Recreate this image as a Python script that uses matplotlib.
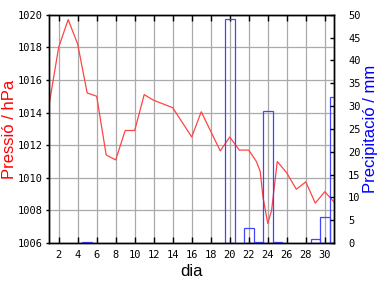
import numpy as np
import matplotlib
matplotlib.use("Agg")
import matplotlib.pyplot as plt

# pressure readings (day of month, hPa)
press_days = [1, 2, 3, 4, 5, 6, 7, 8, 9, 10, 11, 12, 14, 16, 17, 19, 20, 21, 22,
              22.8, 23.2, 23.5, 24, 24.4, 25, 26, 27, 28, 29, 30, 31]
press_vals = [1014.5, 1018.0, 1019.7, 1018.2, 1015.2, 1015.0, 1011.4, 1011.1, 1012.9,
              1012.9, 1015.1, 1014.75, 1014.3, 1012.5, 1014.05, 1011.65, 1012.5, 1011.7,
              1011.7, 1011.0, 1010.4, 1008.8, 1007.2, 1008.0, 1011.0, 1010.3, 1009.3,
              1009.75, 1008.45, 1009.15, 1008.5]

# daily precipitation (mm)
rain_days = [5, 20, 22, 23, 24, 25, 29, 30, 31]
rain_vals = [0.2, 49.0, 3.4, 0.2, 29.0, 0.2, 1.0, 5.6, 32.0]

red = "#ff4444"
blue = "#4444ff"

fig = plt.figure(figsize=(3.84, 2.88), dpi=100)
ax = fig.add_axes([0.128, 0.156, 0.7426, 0.793])
ax2 = ax.twinx()

ax.plot(press_days, press_vals, color=red, lw=0.9)
ax.set_xlim(1, 31)
ax.set_ylim(1006, 1020)
ax.set_yticks(np.arange(1006, 1021, 2))
ax.set_xticks(np.arange(2, 31, 2))
ax.grid(True, color="#aaaaaa", lw=0.9)
ax.set_axisbelow(True)

ax2.bar(rain_days, rain_vals, width=1.0, fill=False, edgecolor=blue, lw=0.9)
ax2.set_ylim(0, 50)
ax2.set_yticks(np.arange(0, 51, 5))
ax2.set_xlim(1, 31)

mono = {"family": "DejaVu Sans Mono", "size": 7.5}
for lab in ax.get_xticklabels() + ax.get_yticklabels() + ax2.get_yticklabels():
    lab.set_fontfamily("DejaVu Sans Mono")
    lab.set_fontsize(7.5)

ax.tick_params(axis="y", direction="out", length=2.5, width=1, pad=2)
ax.tick_params(axis="x", direction="in", length=4, width=1, pad=5, top=True)
ax2.tick_params(axis="y", direction="in", length=3, width=1, pad=10)

for a in (ax, ax2):
    for s in a.spines.values():
        s.set_linewidth(1.0)
        s.set_color("black")

ax.set_xlabel("dia", fontsize=12, family="Liberation Sans", labelpad=3)
ax.set_ylabel("Pressió / hPa", fontsize=12, family="Liberation Sans", color="red", labelpad=1)
ax2.set_ylabel("Precipitació / mm", fontsize=12, family="Liberation Sans", color="blue", labelpad=2)

fig.savefig("out.png", dpi=100)
